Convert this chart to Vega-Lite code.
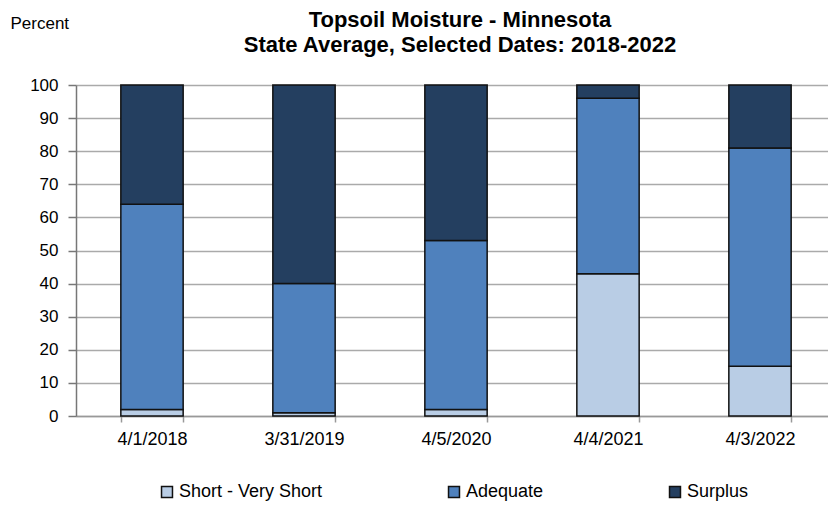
{
  "$schema": "https://vega.github.io/schema/vega-lite/v6.json",
  "width": 752,
  "height": 331,
  "autosize": "none",
  "padding": {"left": 76, "top": 85, "right": 0, "bottom": 92},
  "background": "white",
  "title": {
    "text": ["Topsoil Moisture - Minnesota", "State Average, Selected Dates: 2018-2022"],
    "font": "Liberation Sans",
    "fontSize": 22,
    "fontWeight": "bold",
    "color": "#000000",
    "anchor": "middle",
    "lineHeight": 25,
    "offset": -43,
    "dx": 8
  },
  "data": {
    "values": [
      {"date": "4/1/2018", "category": "Short - Very Short", "ord": 1, "value": 2},
      {"date": "4/1/2018", "category": "Adequate", "ord": 2, "value": 62},
      {"date": "4/1/2018", "category": "Surplus", "ord": 3, "value": 36},
      {"date": "3/31/2019", "category": "Short - Very Short", "ord": 1, "value": 1},
      {"date": "3/31/2019", "category": "Adequate", "ord": 2, "value": 39},
      {"date": "3/31/2019", "category": "Surplus", "ord": 3, "value": 60},
      {"date": "4/5/2020", "category": "Short - Very Short", "ord": 1, "value": 2},
      {"date": "4/5/2020", "category": "Adequate", "ord": 2, "value": 51},
      {"date": "4/5/2020", "category": "Surplus", "ord": 3, "value": 47},
      {"date": "4/4/2021", "category": "Short - Very Short", "ord": 1, "value": 43},
      {"date": "4/4/2021", "category": "Adequate", "ord": 2, "value": 53},
      {"date": "4/4/2021", "category": "Surplus", "ord": 3, "value": 4},
      {"date": "4/3/2022", "category": "Short - Very Short", "ord": 1, "value": 15},
      {"date": "4/3/2022", "category": "Adequate", "ord": 2, "value": 66},
      {"date": "4/3/2022", "category": "Surplus", "ord": 3, "value": 19}
    ]
  },
  "mark": {"type": "bar", "stroke": "#111111", "strokeWidth": 1.5},
  "encoding": {
    "x": {
      "field": "date",
      "type": "nominal",
      "sort": ["4/1/2018", "3/31/2019", "4/5/2020", "4/4/2021", "4/3/2022"],
      "scale": {"range": [0, 760], "paddingInner": 0.59, "paddingOuter": 0.295},
      "axis": {
        "title": null,
        "labelAngle": 0,
        "labelFont": "Liberation Sans",
        "labelFontSize": 18,
        "labelColor": "#000000",
        "labelPadding": 8,
        "tickBand": "extent",
        "tickSize": 6,
        "tickColor": "#999999",
        "tickWidth": 1.5,
        "domainColor": "#999999",
        "domainWidth": 1.5,
        "grid": false
      }
    },
    "y": {
      "field": "value",
      "type": "quantitative",
      "stack": "zero",
      "scale": {"domain": [0, 100], "nice": false},
      "axis": {
        "values": [0, 10, 20, 30, 40, 50, 60, 70, 80, 90, 100],
        "title": "Percent",
        "titleAngle": 0,
        "titleFont": "Liberation Sans",
        "titleFontSize": 17,
        "titleFontWeight": "normal",
        "titleColor": "#000000",
        "titleAlign": "left",
        "titleBaseline": "middle",
        "titleX": -66,
        "titleY": -62,
        "labelFont": "Liberation Sans",
        "labelFontSize": 17,
        "labelColor": "#000000",
        "labelPadding": 10,
        "tickSize": 8,
        "tickColor": "#777777",
        "tickWidth": 1.5,
        "domainColor": "#777777",
        "domainWidth": 1.5,
        "grid": true,
        "gridColor": "#AAAAAA",
        "gridWidth": 1.5
      }
    },
    "color": {
      "field": "category",
      "type": "nominal",
      "sort": ["Short - Very Short", "Adequate", "Surplus"],
      "scale": {
        "domain": ["Short - Very Short", "Adequate", "Surplus"],
        "range": ["#B9CDE5", "#4F81BD", "#243F60"]
      },
      "legend": {
        "title": null,
        "orient": "none",
        "legendX": 82,
        "legendY": 398,
        "direction": "horizontal",
        "columns": 3,
        "columnPadding": 122,
        "symbolType": "square",
        "symbolSize": 120,
        "symbolStrokeColor": "#111111",
        "symbolStrokeWidth": 1.5,
        "labelFont": "Liberation Sans",
        "labelFontSize": 18,
        "labelColor": "#000000",
        "labelOffset": 3
      }
    },
    "order": {"field": "ord", "type": "quantitative"}
  },
  "config": {"view": {"stroke": null}}
}
